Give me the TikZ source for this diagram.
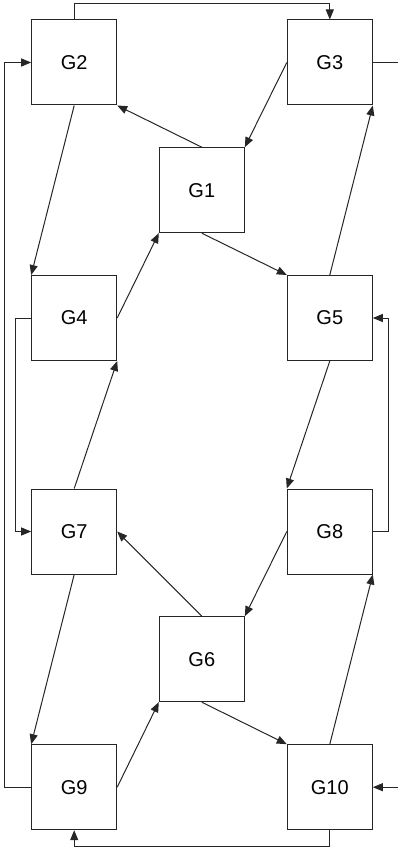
\documentclass[tikz,border=0pt]{standalone}
\usepackage{fontspec}
\setmainfont{Liberation Sans}
\usetikzlibrary{arrows.meta}
\begin{document}
\begin{tikzpicture}[x=1pt,y=-1pt,
  gbox/.style={draw=black!85, line width=1pt, minimum size=85pt, inner sep=0pt, font=\fontsize{20}{24}\selectfont},
  conn/.style={draw=black!85, line width=1pt, -{Triangle[length=10pt,width=8pt]}}]
\useasboundingbox (0,0) rectangle (398,848);
\node[gbox] (g2) at (74.2,62.5) {G2};
\node[gbox] (g3) at (329.8,62.5) {G3};
\node[gbox] (g1) at (201.8,190.2) {G1};
\node[gbox] (g4) at (74.2,318) {G4};
\node[gbox] (g5) at (329.8,318) {G5};
\node[gbox] (g7) at (74.2,531.5) {G7};
\node[gbox] (g8) at (329.8,531.5) {G8};
\node[gbox] (g6) at (201.8,659.2) {G6};
\node[gbox] (g9) at (74.2,787.2) {G9};
\node[gbox] (g10) at (329.8,787.2) {G10};
\coordinate (top) at (0,4);
\coordinate (bot) at (0,846);
\coordinate (lft) at (4.5,0);
\coordinate (il) at (15.5,0);
\coordinate (ir) at (388,0);
\coordinate (orr) at (412,0);
% routed connectors
\draw[conn] (g2.north) -- (g2.north |- top) -| (g3.north);
\draw[conn] (g9.west) -- (g9.west -| lft) |- (g2.west);
\draw[conn] (g10.south) -- (g10.south |- bot) -| (g9.south);
\draw[conn] (g4.west) -- (g4.west -| il) |- (g7.west);
\draw[conn] (g8.east) -- (g8.east -| ir) |- (g5.east);
\draw[conn] (g3.east) -- (g3.east -| orr) |- (g10.east);
% diagonals
\draw[conn] (g1.north) -- (g2.south east);
\draw[conn] (g3.west) -- (g1.north east);
\draw[conn] (g2.south) -- (g4.north west);
\draw[conn] (g4.east) -- (g1.south west);
\draw[conn] (g1.south) -- (g5.north west);
\draw[conn] (g5.north) -- (g3.south east);
\draw[conn] (g7.north) -- (g4.south east);
\draw[conn] (g5.south) -- (g8.north west);
\draw[conn] (g6.north) -- (g7.east);
\draw[conn] (g8.west) -- (g6.north east);
\draw[conn] (g7.south) -- (g9.north west);
\draw[conn] (g9.east) -- (g6.south west);
\draw[conn] (g6.south) -- (g10.north west);
\draw[conn] (g10.north) -- (g8.south east);
\end{tikzpicture}
\end{document}
